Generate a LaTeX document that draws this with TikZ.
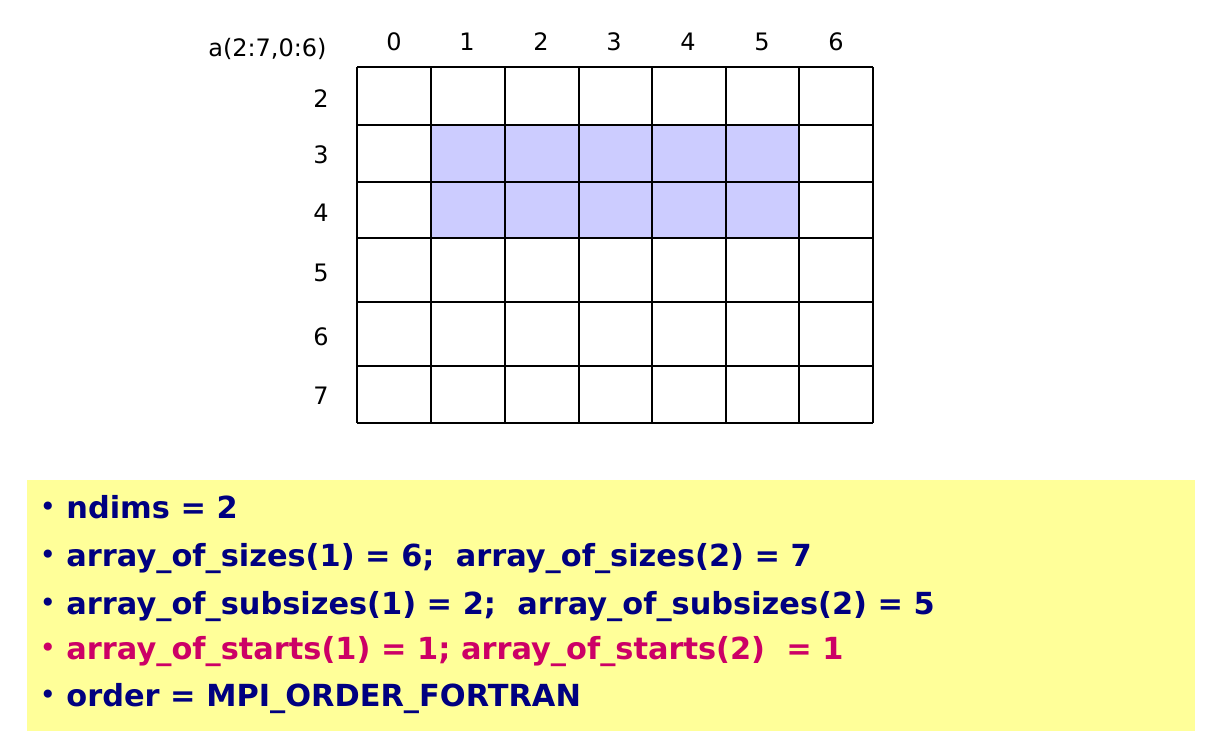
\documentclass[tikz,border=0pt]{standalone}
\usepackage{fontspec}
\setmainfont{DejaVu Sans}
\definecolor{navytext}{HTML}{000080}
\definecolor{redtext}{HTML}{CC0066}
\definecolor{notebg}{HTML}{FFFF99}
\definecolor{subfill}{HTML}{CCCCFF}
\begin{document}
\begin{tikzpicture}[x=0.5pt,y=-0.5pt,
  lbl/.style={inner sep=0pt,anchor=base,font=\fontsize{12}{14}\selectfont},
  gridline/.style={draw=black,line width=1pt},
  notetext/.style={inner sep=0pt,anchor=base west,font=\fontsize{15.2}{18}\selectfont\bfseries,text=navytext},
  bul/.style={inner sep=0pt,anchor=center,font=\fontsize{14}{16}\selectfont,text=navytext}]
\useasboundingbox (0,0) rectangle (1228,742);
\fill[white] (0,0) rectangle (1228,742);
% subarray fill
\fill[subfill] (431,125) rectangle (799,238);
% grid
\foreach \x in {357,431,505,579,652,726,799,873}
  \draw[gridline] (\x,67) -- (\x,423);
\foreach \y in {67,125,182,238,302,366,423}
  \draw[gridline] (357,\y) -- (873,\y);
% column labels
\node[lbl] (c0) at (394,51) {0};
\node[lbl] (c1) at (467,51) {1};
\node[lbl] (c2) at (541,51) {2};
\node[lbl] (c3) at (614,51) {3};
\node[lbl] (c4) at (688,51) {4};
\node[lbl] (c5) at (762,51) {5};
\node[lbl] (c6) at (836,51) {6};
% row labels
\node[lbl] (r2) at (321,108) {2};
\node[lbl] (r3) at (321,164) {3};
\node[lbl] (r4) at (321,222) {4};
\node[lbl] (r5) at (321,282) {5};
\node[lbl] (r6) at (321,346) {6};
\node[lbl] (r7) at (321,405) {7};
% array name
\node[lbl,anchor=base east] (aname) at (327,57) {a(2:7,0:6)};
% note box
\fill[notebg] (27,480) rectangle (1195,731);
\node[bul] (b1) at (48,509) {•};
\node[bul] (b2) at (48,557) {•};
\node[bul] (b3) at (48,605) {•};
\node[bul,text=redtext] (b4) at (48,650) {•};
\node[bul] (b5) at (48,697) {•};
\node[notetext] (l1) at (66,519) {ndims = 2};
\node[notetext] (l2) at (66,567) {array\_of\_sizes(1) = 6;\ \ array\_of\_sizes(2) = 7};
\node[notetext] (l3) at (66,615) {array\_of\_subsizes(1) = 2;\ \ array\_of\_subsizes(2) = 5};
\node[notetext,text=redtext] (l4) at (66,660) {array\_of\_starts(1) = 1; array\_of\_starts(2)\ \ = 1};
\node[notetext] (l5) at (66,707) {order = MPI\_ORDER\_FORTRAN};
\end{tikzpicture}
\end{document}
